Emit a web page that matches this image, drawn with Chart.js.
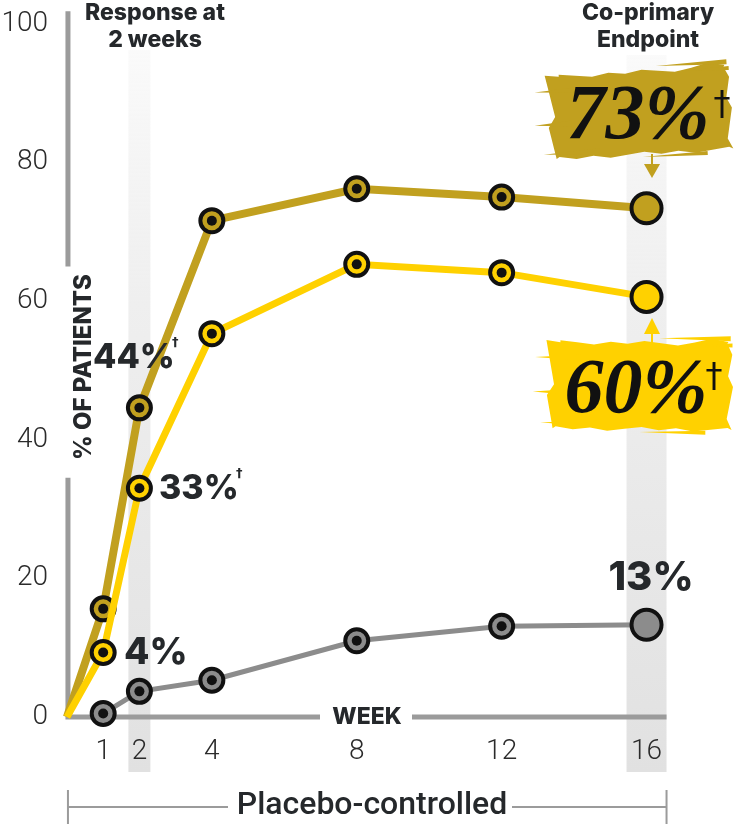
<!DOCTYPE html>
<html>
<head>
<meta charset="utf-8">
<script src="https://cdn.jsdelivr.net/npm/chart.js@4.4.1/dist/chart.umd.min.js"></script>
<style>
  html, body { margin: 0; padding: 0; background: #fff; }
  #wrap { position: relative; width: 748px; height: 824px; }
</style>
</head>
<body>
<div id="wrap"><canvas id="chart" width="748" height="824"></canvas></div>
<script>
// values (percent of patients by week)
const weeks = [0, 1, 2, 4, 8, 12, 16];
const highDose = [0, 15.6, 44.6, 71.6, 76.2, 75, 73.4];
const lowDose = [0, 9.3, 33, 55.3, 65.3, 64.1, 60.6];
const placeboWeeks = [1, 2, 4, 8, 12, 16];
const placebo = [0.5, 3.7, 5.3, 11, 13.1, 13.3];
const weekTicks = [1, 2, 4, 8, 12, 16];
const bandWeeks = [2, 16];

const GOLD = '#c1a01f';
const YELLOW = '#ffd100';
const GREY = '#8c8c8c';
const INK = '#25282b';
const AXIS = '#9b9b9b';

function points(xs, ys) {
  return xs.map((x, i) => ({ x: x, y: ys[i] }));
}

// no marker at week 0, normal marker in the middle, big marker at week 16
function radius(ctx) {
  const n = ctx.dataset.data.length;
  const p = ctx.dataset.data[ctx.dataIndex];
  if (p.x === 0) return 0;
  return ctx.dataIndex === n - 1 ? 15 : 11.5;
}

function series(label, xs, ys, color, width) {
  return {
    label: label,
    data: points(xs, ys),
    borderColor: color,
    backgroundColor: color,
    borderWidth: width,
    pointRadius: radius,
    pointHoverRadius: radius,
    pointBackgroundColor: color,
    pointBorderColor: '#111',
    pointBorderWidth: 4,
    tension: 0,
    clip: false
  };
}

// rough brush-stroke patch behind the endpoint numbers
function brush(c, cx, cy, w, h, angle, color) {
  c.save();
  c.translate(cx, cy);
  c.rotate(angle);
  c.fillStyle = color;
  const x0 = -w / 2, y0 = -h / 2;
  c.beginPath();
  c.moveTo(x0 + 14, y0 + 6);
  for (let i = 0; i <= 10; i++) {
    const x = x0 + 14 + (w - 20) * i / 10;
    c.lineTo(x, y0 + 4 + ((i * 7) % 5) - (i === 9 ? 6 : 0));
  }
  for (let i = 0; i <= 8; i++) {
    const y = y0 + 6 + (h - 10) * i / 8;
    c.lineTo(x0 + w - 4 + ((i * 5) % 7) - 3, y);
  }
  for (let i = 10; i >= 0; i--) {
    const x = x0 + 10 + (w - 16) * i / 10;
    c.lineTo(x, y0 + h - 4 + ((i * 3) % 5) - 2);
  }
  for (let i = 8; i >= 0; i--) {
    const y = y0 + 4 + (h - 8) * i / 8;
    c.lineTo(x0 + 4 + ((i * 11) % 9) - 4, y);
  }
  c.closePath();
  c.fill();
  // loose bristle streaks at the edges
  const streaks = [
    [-0.56, -0.28, 0.25, 3], [-0.57, 0.08, 0.2, 3], [-0.53, 0.40, 0.3, 3],
    [0.10, -0.49, 0.38, 2.5], [0.0, 0.49, 0.35, 2], [0.25, -0.42, 0.24, 2]
  ];
  streaks.forEach(s => {
    const sx = s[0] * w, sy = s[1] * h, len = s[2] * w, th = s[3];
    c.beginPath();
    c.moveTo(sx, sy);
    c.lineTo(sx + len, sy - th);
    c.lineTo(sx + len, sy + th);
    c.closePath();
    c.fill();
  });
  c.restore();
}

function arrow(c, x, tipY, baseY, color) {
  const dir = tipY > baseY ? 1 : -1;
  c.save();
  c.strokeStyle = color;
  c.fillStyle = color;
  c.lineWidth = 2;
  c.beginPath();
  c.moveTo(x, baseY - dir * 10);
  c.lineTo(x, baseY);
  c.stroke();
  c.beginPath();
  c.moveTo(x - 8, baseY);
  c.lineTo(x + 8, baseY);
  c.lineTo(x, tipY);
  c.closePath();
  c.fill();
  c.restore();
}

function text(c, str, x, y, font, align, color) {
  c.font = font;
  c.textAlign = align || 'left';
  c.textBaseline = 'middle';
  c.fillStyle = color || INK;
  c.fillText(str, x, y);
}

const decor = {
  id: 'decor',
  beforeDraw(chart) {
    const c = chart.ctx, xs = chart.scales.x;
    c.save();
    // highlighted weeks, under the tick labels
    bandWeeks.forEach((wk, i) => {
      const cx = xs.getPixelForValue(wk);
      const bw = i === 0 ? 22 : 40;
      const top = i === 0 ? 50 : 55;
      const g = c.createLinearGradient(0, top, 0, 772);
      g.addColorStop(0, 'rgba(236,236,236,0.25)');
      g.addColorStop(0.35, '#efefef');
      g.addColorStop(1, '#e1e1e1');
      c.fillStyle = g;
      c.fillRect(cx - bw / 2, top, bw, 772 - top);
    });
    c.restore();
  },
  beforeDatasetsDraw(chart) {
    const c = chart.ctx, xs = chart.scales.x, ys = chart.scales.y;
    c.save();
    // axis lines with gaps for their titles
    const ax = xs.getPixelForValue(0) + 1;
    const ay = ys.getPixelForValue(0);
    c.strokeStyle = AXIS;
    c.lineWidth = 5;
    c.beginPath();
    c.moveTo(ax, ys.getPixelForValue(101.8));
    c.lineTo(ax, ys.getPixelForValue(65));
    c.moveTo(ax, ys.getPixelForValue(34.5));
    c.lineTo(ax, ay + 2.5);
    c.moveTo(ax - 2.5, ay);
    c.lineTo(320, ay);
    c.moveTo(412, ay);
    c.lineTo(xs.getPixelForValue(16) + 20, ay);
    c.stroke();
    c.restore();
  },
  afterDatasetsDraw(chart) {
    const c = chart.ctx, ys = chart.scales.y;
    c.save();
    // black centre dots on the interim markers
    chart.data.datasets.forEach((ds, di) => {
      const meta = chart.getDatasetMeta(di);
      meta.data.forEach((pt, i) => {
        if (ds.data[i].x === 0 || i === ds.data.length - 1) return;
        c.fillStyle = '#111';
        c.beginPath();
        c.arc(pt.x, pt.y, 5, 0, Math.PI * 2);
        c.fill();
      });
    });

    // axis titles
    const ay = ys.getPixelForValue(0);
    text(c, 'WEEK', 367, ay, '800 23px Inter, Roboto, sans-serif', 'center');
    c.save();
    c.translate(84, 367);
    c.rotate(-Math.PI / 2);
    text(c, '% OF PATIENTS', 0, 0, '800 24px Inter, Roboto, sans-serif', 'center');
    c.restore();

    // headings over the highlighted weeks
    const hf = '800 23px Inter, Roboto, sans-serif';
    text(c, 'Response at', 155, 13, hf, 'center');
    text(c, '2 weeks', 155, 40, hf, 'center');
    text(c, 'Co-primary', 648, 13, hf, 'center');
    text(c, 'Endpoint', 648, 40, hf, 'center');

    // week-2 and placebo callouts
    const big = '800 34px Inter, Roboto, sans-serif';
    text(c, '44%', 93, 358, big);
    text(c, '†', 172, 343, '700 13px "DejaVu Sans", sans-serif');
    text(c, '33%', 159, 489, big);
    text(c, '†', 236, 474, '700 13px "DejaVu Sans", sans-serif');
    text(c, '4%', 124, 653, '800 37px Inter, Roboto, sans-serif');
    text(c, '13%', 651, 578, '800 40px Inter, Roboto, sans-serif', 'center');

    // endpoint callouts
    brush(c, 640, 112, 186, 92, -0.06, GOLD);
    text(c, '73%', 638, 118, 'italic bold 78px "Liberation Serif", serif', 'center', '#111');
    text(c, '†', 722, 106, '400 34px "DejaVu Sans", sans-serif', 'center', '#111');
    arrow(c, 652, 178, 164, GOLD);

    brush(c, 640, 385, 188, 96, 0.01, YELLOW);
    text(c, '60%', 636, 392, 'italic bold 78px "Liberation Serif", serif', 'center', '#111');
    text(c, '†', 714, 378, '400 34px "DejaVu Sans", sans-serif', 'center', '#111');
    arrow(c, 652, 318, 334, YELLOW);
    c.restore();
  },
  afterDraw(chart) {
    const c = chart.ctx, xs = chart.scales.x;
    const left = xs.getPixelForValue(0) + 1;
    const right = xs.getPixelForValue(16) + 20;
    c.save();
    c.strokeStyle = AXIS;
    c.lineWidth = 2;
    c.beginPath();
    c.moveTo(left, 790); c.lineTo(left, 824);
    c.moveTo(right, 790); c.lineTo(right, 824);
    c.moveTo(left, 807); c.lineTo(228, 807);
    c.moveTo(512, 807); c.lineTo(right, 807);
    c.stroke();
    text(c, 'Placebo-controlled', 372, 806, '500 32px Roboto, sans-serif', 'center');
    c.restore();
  }
};

new Chart(document.getElementById('chart'), {
  type: 'line',
  data: {
    datasets: [
      series('Higher dose', weeks, lowDose, YELLOW, 7),
      series('Lower dose', weeks, highDose, GOLD, 8),
      series('Placebo', placeboWeeks, placebo, GREY, 5)
    ]
  },
  options: {
    responsive: false,
    animation: false,
    layout: { padding: { left: 0, right: 58, top: 17, bottom: 55 } },
    plugins: {
      legend: { display: false },
      tooltip: { enabled: false }
    },
    scales: {
      x: {
        type: 'linear',
        min: -0.33,
        max: 17.2,
        grid: { display: false, drawTicks: false },
        border: { display: false },
        afterBuildTicks: axis => { axis.ticks = weekTicks.map(v => ({ value: v })); },
        afterFit: axis => { axis.height = 52; },
        ticks: {
          autoSkip: false,
          maxRotation: 0,
          padding: 18,
          color: '#2b2b2b',
          font: { family: 'Roboto', weight: '300', size: 28 }
        }
      },
      y: {
        min: 0,
        max: 100,
        grid: { display: false, drawTicks: false },
        border: { display: false },
        afterFit: axis => { axis.width = 55; },
        ticks: {
          stepSize: 20,
          padding: 7,
          color: '#2b2b2b',
          font: { family: 'Roboto', weight: '300', size: 28 }
        }
      }
    }
  },
  plugins: [decor]
});
</script>
</body>
</html>
